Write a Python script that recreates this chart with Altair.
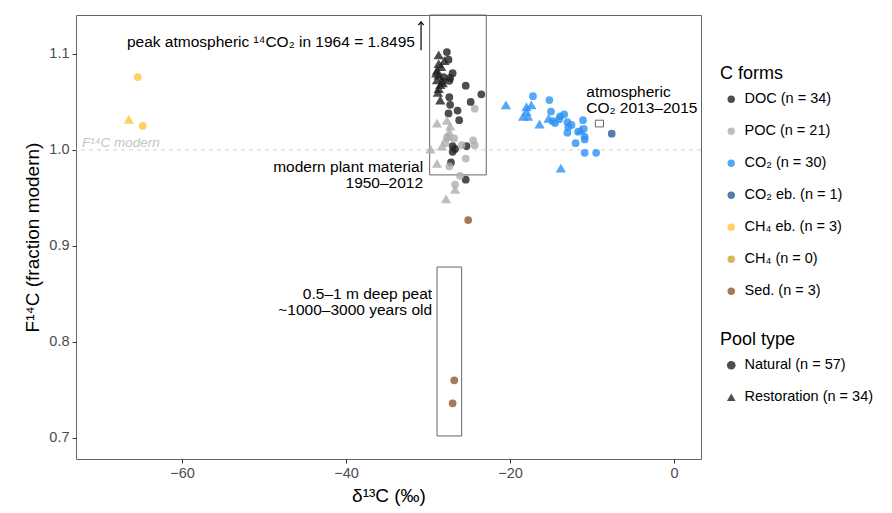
import altair as alt
import pandas as pd

FONT = "Liberation Sans"

# ---------------- data (δ13C, F14C) ----------------
doc_nat_x = [-27.7, -27.5, -28.1, -27.3, -27.0, -27.4, -28.2, -25.4, -23.5, -27.4, -27.3,
             -24.8, -26.4, -27.5, -26.2, -27.0, -25.3, -26.7, -27.0, -27.2, -25.4]
doc_nat_y = [1.102, 1.094, 1.076, 1.075, 1.080, 1.072, 1.071, 1.067, 1.058, 1.055, 1.047,
             1.050, 1.041, 1.038, 1.031, 1.004, 1.004, 1.001, 0.998, 0.987, 0.969]
doc_res_x = [-28.7, -28.7, -28.9, -28.7, -28.9, -28.5, -28.7, -28.5, -28.4, -29.0, -28.2, -28.8, -28.0]
doc_res_y = [1.099, 1.090, 1.083, 1.078, 1.073, 1.068, 1.064, 1.052, 1.087, 1.080, 1.070, 1.060, 1.093]

poc_nat_x = [-24.3, -27.7, -26.8, -24.5, -24.3, -25.9, -25.4, -27.4, -26.1, -26.7, -27.9]
poc_nat_y = [1.043, 1.013, 1.012, 1.010, 1.005, 1.005, 0.991, 0.983, 0.973, 0.964, 1.007]
poc_res_x = [-28.9, -27.7, -27.3, -27.4, -27.5, -28.3, -29.7, -28.9, -26.7, -27.8]
poc_res_y = [1.028, 1.031, 1.025, 1.019, 1.014, 1.004, 1.001, 0.986, 0.959, 0.949]

co2_nat_x = [-17.2, -15.2, -15.0, -13.4, -13.9, -14.0, -14.5, -13.0, -12.9, -13.0,
             -11.1, -11.7, -11.0, -10.9, -10.9, -12.0, -10.9, -9.5, -12.5, -14.8]
co2_nat_y = [1.056, 1.052, 1.040, 1.037, 1.035, 1.032, 1.028, 1.029, 1.024, 1.018,
             1.031, 1.019, 1.022, 1.011, 1.014, 1.007, 0.997, 0.997, 1.026, 1.030]
co2_res_x = [-20.5, -18.0, -17.4, -18.0, -18.4, -17.8, -16.4, -15.3, -11.4, -13.8]
co2_res_y = [1.047, 1.045, 1.047, 1.040, 1.035, 1.035, 1.027, 1.033, 1.021, 0.981]

co2eb_nat_x = [-7.6]
co2eb_nat_y = [1.017]

ch4eb_nat_x = [-65.4, -64.8]
ch4eb_nat_y = [1.076, 1.025]
ch4eb_res_x = [-66.5]
ch4eb_res_y = [1.032]

sed_nat_x = [-25.1, -26.8, -27.0]
sed_nat_y = [0.927, 0.760, 0.736]

form_labels = ["DOC (n = 34)", "POC (n = 21)", "CO₂ (n = 30)", "CO₂ eb. (n = 1)",
               "CH₄ eb. (n = 3)", "CH₄ (n = 0)", "Sed. (n = 3)"]
form_colors = ["#202020", "#AEAEAE", "#2C92F5", "#245C95", "#FFC43D", "#D3A131", "#95562A"]
pool_labels = ["Natural (n = 57)", "Restoration (n = 34)"]

x_ticks = [-60, -40, -20, 0]
y_ticks = [0.7, 0.8, 0.9, 1.0, 1.1]
x_dom = [-72.93, 3.29]
y_dom = [0.678, 1.1406]

# annotation geometry (data units)
box_x = [-29.8, -28.9, -9.6]
box_x2 = [-22.9, -25.9, -8.6]
box_y = [0.974, 0.702, 1.024]
box_y2 = [1.1406, 0.878, 1.031]

right_texts = ["peak atmospheric ¹⁴CO₂ in 1964 = 1.8495", "modern plant material", "1950–2012",
               "0.5–1 m deep peat", "~1000–3000 years old"]
right_x = [-31.6, -30.6, -30.6, -29.5, -29.5]
right_y = [1.1125, 0.982, 0.966, 0.8497, 0.8333]
left_texts = ["atmospheric", "CO₂ 2013–2015"]
left_x = [-10.7, -10.7]
left_y = [1.0604, 1.0437]

arrow_x = -30.85
arrow_y = 1.104
arrow_y2 = 1.1335

# ---------------- build table ----------------
rows = []
def add(xs, ys, form, pool):
    for a, b in zip(xs, ys):
        rows.append({"x": a, "y": b, "form": form, "pool": pool})

add(doc_nat_x, doc_nat_y, form_labels[0], pool_labels[0])
add(doc_res_x, doc_res_y, form_labels[0], pool_labels[1])
add(poc_nat_x, poc_nat_y, form_labels[1], pool_labels[0])
add(poc_res_x, poc_res_y, form_labels[1], pool_labels[1])
add(co2_nat_x, co2_nat_y, form_labels[2], pool_labels[0])
add(co2_res_x, co2_res_y, form_labels[2], pool_labels[1])
add(co2eb_nat_x, co2eb_nat_y, form_labels[3], pool_labels[0])
add(ch4eb_nat_x, ch4eb_nat_y, form_labels[4], pool_labels[0])
add(ch4eb_res_x, ch4eb_res_y, form_labels[4], pool_labels[1])
add(sed_nat_x, sed_nat_y, form_labels[6], pool_labels[0])
pts = pd.DataFrame(rows)

xs = alt.Scale(domain=x_dom, nice=False, zero=False)
ys = alt.Scale(domain=y_dom, nice=False, zero=False)

X = alt.X("x:Q", scale=xs, title="δ¹³C (‰)",
          axis=alt.Axis(values=x_ticks, titlePadding=7))
Y = alt.Y("y:Q", scale=ys, title="F¹⁴C (fraction modern)",
          axis=alt.Axis(values=y_ticks, format=".1f", titlePadding=6))

color_enc = alt.Color("form:N", scale=alt.Scale(domain=form_labels, range=form_colors),
                      legend=alt.Legend(title="C forms", orient="none", legendX=644, legendY=50,
                                        symbolType="circle", symbolSize=55, symbolOpacity=0.8,
                                        symbolStrokeWidth=0))
shape_enc = alt.Shape("pool:N", scale=alt.Scale(domain=pool_labels, range=["circle", "triangle-up"]),
                      legend=alt.Legend(title="Pool type", orient="none", legendX=644, legendY=316,
                                        symbolSize=75, symbolFillColor="#4d4d4d",
                                        symbolStrokeWidth=0, symbolOpacity=1))

base_pts = alt.Chart(pts)
nat_points = base_pts.transform_filter(alt.datum.pool == pool_labels[0]).mark_point(
    filled=True, opacity=0.8, size=60).encode(x=X, y=Y, color=color_enc, shape=shape_enc)
res_points = base_pts.transform_filter(alt.datum.pool == pool_labels[1]).mark_point(
    filled=True, opacity=0.8, size=105).encode(x=X, y=Y, color=color_enc, shape=shape_enc)

hline = alt.Chart(pd.DataFrame({"y": [1.0]})).mark_rule(
    color="#d0d0d0", strokeDash=[4, 4], strokeWidth=1).encode(y=alt.Y("y:Q", scale=ys))

boxes = alt.Chart(pd.DataFrame({"x": box_x, "x2": box_x2, "y": box_y, "y2": box_y2})).mark_rect(
    fillOpacity=0, stroke="#666666", strokeWidth=1).encode(
    x=alt.X("x:Q", scale=xs), x2="x2:Q", y=alt.Y("y:Q", scale=ys), y2="y2:Q")

arrow_df = pd.DataFrame({"x": [arrow_x], "y": [arrow_y], "y2": [arrow_y2]})
arrow_line = alt.Chart(arrow_df).mark_rule(color="black", strokeWidth=1.2).encode(
    x=alt.X("x:Q", scale=xs), y=alt.Y("y:Q", scale=ys), y2="y2:Q")
arrow_head = alt.Chart(arrow_df).mark_point(
    shape="M -1 1.2 L 0 0 L 1 1.2", filled=False, size=30, color="black", strokeWidth=1.2,
    opacity=1).encode(x=alt.X("x:Q", scale=xs), y=alt.Y("y2:Q", scale=ys))

rtext = alt.Chart(pd.DataFrame({"t": right_texts, "x": right_x, "y": right_y})).mark_text(
    align="right", baseline="middle", font=FONT, fontSize=15.5, color="black").encode(
    x=alt.X("x:Q", scale=xs), y=alt.Y("y:Q", scale=ys), text="t:N")
ltext = alt.Chart(pd.DataFrame({"t": left_texts, "x": left_x, "y": left_y})).mark_text(
    align="left", baseline="middle", font=FONT, fontSize=15.5, color="black").encode(
    x=alt.X("x:Q", scale=xs), y=alt.Y("y:Q", scale=ys), text="t:N")
mtext = alt.Chart(pd.DataFrame({"t": ["F¹⁴C modern"], "x": [-72.2], "y": [1.0073]})).mark_text(
    align="left", baseline="middle", font=FONT, fontSize=13.5, fontStyle="italic",
    color="#c4c4c4").encode(x=alt.X("x:Q", scale=xs), y=alt.Y("y:Q", scale=ys), text="t:N")

chart = alt.layer(hline, boxes, arrow_line, arrow_head, rtext, ltext, mtext,
                  nat_points, res_points).properties(
    width=625, height=444,
    autosize=alt.AutoSizeParams(type="none"),
    padding={"left": 68, "top": 7, "right": 182, "bottom": 54},
).configure_view(
    stroke="#666666", strokeWidth=1
).configure_axis(
    grid=False, domain=False, ticks=True, tickColor="#333333", tickSize=4,
    labelColor="#4d4d4d", labelFontSize=14.5, labelFont=FONT, labelPadding=3,
    titleFont=FONT, titleFontSize=19, titleFontWeight="normal", titleColor="black",
).configure_legend(
    titleFont=FONT, titleFontSize=18, titleFontWeight="normal", titleColor="black",
    labelFont=FONT, labelFontSize=14.5, labelColor="black", rowPadding=17,
    titlePadding=9, labelOffset=6, symbolOffset=4, padding=0,
)

chart.save("out.html", embed_options={"renderer": "svg", "actions": False})
